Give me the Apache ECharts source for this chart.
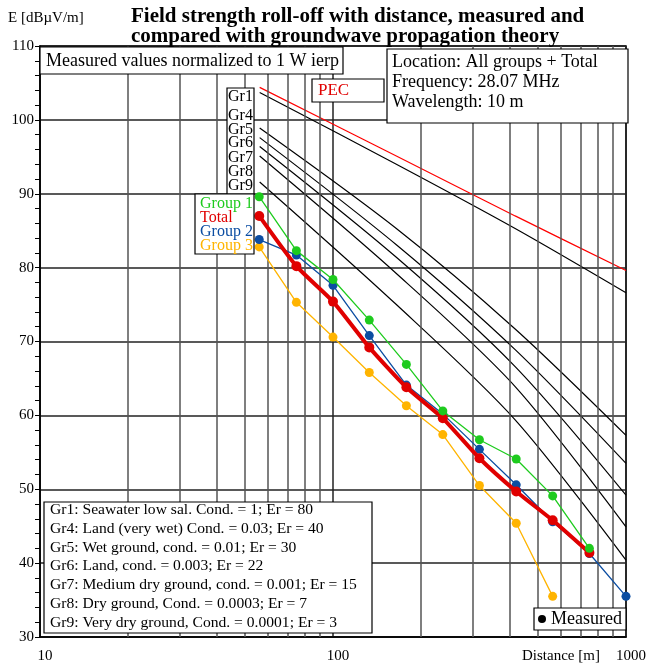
<html>
<head>
<meta charset="utf-8">
<script src="https://cdn.jsdelivr.net/npm/echarts@6/dist/echarts.min.js"></script>
<style>
  body { margin: 0; background: #fff; }
  #main { width: 649px; height: 666px; }
</style>
</head>
<body>
<div id="main"></div>
<script>
// measurement distances [m]
var distances = [56, 75, 100, 133, 178, 237, 316, 422, 562, 750, 1000];
// measured field strength [dBuV/m], normalized to 1 W ierp
var group1 = [89.6, 82.3, 78.4, 72.9, 66.9, 60.6, 56.7, 54.1, 49.1, 42.0, null];
var total  = [87.0, 80.2, 75.4, 69.2, 63.8, 59.6, 54.2, 49.7, 45.8, 41.4, null];
var group2 = [83.8, 81.7, 77.6, 70.8, 64.1, 60.2, 55.4, 50.6, 45.6, 41.3, 35.5];
var group3 = [82.8, 75.3, 70.6, 65.8, 61.3, 57.4, 50.5, 45.4, 35.5, null, null];

// theory curves (groundwave), sampled at these distances
var theoryDist = [56.2, 164.5, 418.5, 1000];
var pec = [104.4, 95.1, 87.0, 79.6];
var gr1 = [103.7, 94.0, 85.3, 76.6];
var gr5 = [98.9, 85.3, 71.7, 57.3];
var gr6 = [97.6, 83.1, 68.9, 53.5];
var gr7 = [96.4, 81.4, 66.6, 49.2];
var gr8 = [95.1, 79.2, 63.9, 44.9];
var gr9 = [91.6, 75.0, 59.4, 40.4];

var xGrid = [20, 30, 40, 50, 60, 70, 80, 90, 200, 300, 400, 500, 600, 700, 800, 900];

var grLabels = ['Gr1', 'Gr4', 'Gr5', 'Gr6', 'Gr7', 'Gr8', 'Gr9'];
var groupLabels = ['Group 1', 'Total', 'Group 2', 'Group 3'];
var groundText = [
  'Gr1: Seawater low sal. Cond. = 1; Er = 80',
  'Gr4: Land (very wet) Cond. = 0.03; Er = 40',
  'Gr5: Wet ground, cond. = 0.01; Er = 30',
  'Gr6: Land, cond. = 0.003; Er = 22',
  'Gr7: Medium dry ground, cond. = 0.001; Er = 15',
  'Gr8: Dry ground, Cond. = 0.0003; Er = 7',
  'Gr9: Very dry ground, Cond. = 0.0001; Er = 3'
];
var locationText = ['Location: All groups + Total', 'Frequency: 28.07 MHz', 'Wavelength: 10 m'];

var SERIF = 'Liberation Serif';
var C_G1 = '#1ecb1e', C_TOT = '#e00000', C_G2 = '#0b4da2', C_G3 = '#ffb400';

function pairs(xs, ys) {
  var out = [];
  for (var i = 0; i < xs.length; i++) {
    if (ys[i] != null) out.push([xs[i], ys[i]]);
  }
  return out;
}

function theory(name, vals, color) {
  return {
    name: name, type: 'line', data: pairs(theoryDist, vals),
    smooth: 0.3, symbol: 'none', z: 3,
    lineStyle: { color: color, width: 1.2 }
  };
}

function measured(name, vals, color, width, size, z, smooth) {
  return {
    name: name, type: 'line', data: pairs(distances, vals),
    symbol: 'circle', symbolSize: size, z: z, smooth: smooth || false,
    itemStyle: { color: color },
    lineStyle: { color: color, width: width }
  };
}

// boxes and labels
var graphics = [];
function box(x, y, w, h) {
  graphics.push({ type: 'rect', z: 100, shape: { x: x, y: y, width: w, height: h },
    style: { fill: '#fff', stroke: '#000', lineWidth: 1.2 } });
}
function label(x, y, txt, size, color) {
  graphics.push({ type: 'text', z: 101, x: x, y: y,
    style: { text: txt, font: size + 'px "' + SERIF + '"', fill: color || '#000', textVerticalAlign: 'middle' } });
}

box(40, 47, 303, 27);
label(46, 61, 'Measured values normalized to 1 W ierp', 18);

box(387, 49, 241, 74);
locationText.forEach(function (t, i) { label(392, 62 + i * 20, t, 18); });

box(312, 79, 72, 23);
label(318, 91, 'PEC', 17, '#e00000');

box(227, 88, 27, 106);
var grY = [97, 116, 130, 143, 158, 172, 186];
grLabels.forEach(function (t, i) { label(228, grY[i], t, 16); });

box(195, 194, 59, 60);
var groupColors = [C_G1, C_TOT, C_G2, C_G3];
groupLabels.forEach(function (t, i) { label(200, 204 + i * 14, t, 16, groupColors[i]); });

box(44, 502, 328, 131);
groundText.forEach(function (t, i) { label(50, 510 + i * 18.8, t, 15.6); });

box(534, 608, 92, 22);
graphics.push({ type: 'circle', z: 101, shape: { cx: 542, cy: 619, r: 4 }, style: { fill: '#000' } });
label(551, 619, 'Measured', 18);

label(8, 18, 'E [dB\u00b5V/m]', 15);
label(522, 656, 'Distance [m]', 15);

var chart = echarts.init(document.getElementById('main'));
chart.setOption({
  animation: false,
  backgroundColor: '#fff',
  title: {
    text: 'Field strength roll-off with distance, measured and\ncompared with groundwave propagation theory',
    left: 126, top: 2,
    textStyle: { fontFamily: SERIF, fontSize: 21, fontWeight: 'bold', lineHeight: 20, color: '#000' }
  },
  grid: { left: 40, right: 17, top: 46, bottom: 29, show: true, borderColor: '#000', borderWidth: 1.5 },
  xAxis: {
    type: 'log', logBase: 10, min: 10, max: 1000,
    axisLine: { show: true, lineStyle: { color: '#000', width: 1.5 } },
    axisTick: { show: false },
    splitLine: { show: true, lineStyle: { color: '#222', width: 1.5 } },
    axisLabel: {
      fontFamily: SERIF, fontSize: 15, color: '#000', margin: 12, padding: [0, 0, 0, 10],
      formatter: function (v) { return String(Math.round(v)); }
    }
  },
  yAxis: {
    type: 'value', min: 30, max: 110, interval: 10,
    axisLine: { show: true, lineStyle: { color: '#000', width: 1.5 } },
    axisTick: { show: true, inside: false, length: 5, lineStyle: { color: '#000' } },
    minorTick: { show: true, splitNumber: 5, length: 5, lineStyle: { color: '#000' } },
    splitLine: { show: true, lineStyle: { color: '#222', width: 1.5 } },
    axisLabel: { fontFamily: SERIF, fontSize: 15, color: '#000', margin: 6 }
  },
  graphic: graphics,
  series: [
    {
      name: 'grid', type: 'line', data: [[10, 30]], symbol: 'none', z: 1,
      lineStyle: { opacity: 0 },
      markLine: {
        silent: true, symbol: 'none', label: { show: false },
        lineStyle: { type: 'solid', color: '#555', width: 1.5 },
        data: xGrid.map(function (v) { return { xAxis: v }; })
      }
    },
    theory('PEC', pec, '#ff0000'),
    theory('Gr1', gr1, '#000'),
    theory('Gr5', gr5, '#000'),
    theory('Gr6', gr6, '#000'),
    theory('Gr7', gr7, '#000'),
    theory('Gr8', gr8, '#000'),
    theory('Gr9', gr9, '#000'),
    measured('Group 3', group3, C_G3, 1.3, 9, 10),
    measured('Group 2', group2, C_G2, 1.3, 9, 11),
    measured('Total', total, C_TOT, 4, 10, 12, 0.2),
    measured('Group 1', group1, C_G1, 1.3, 9, 13)
  ]
});
</script>
</body>
</html>
